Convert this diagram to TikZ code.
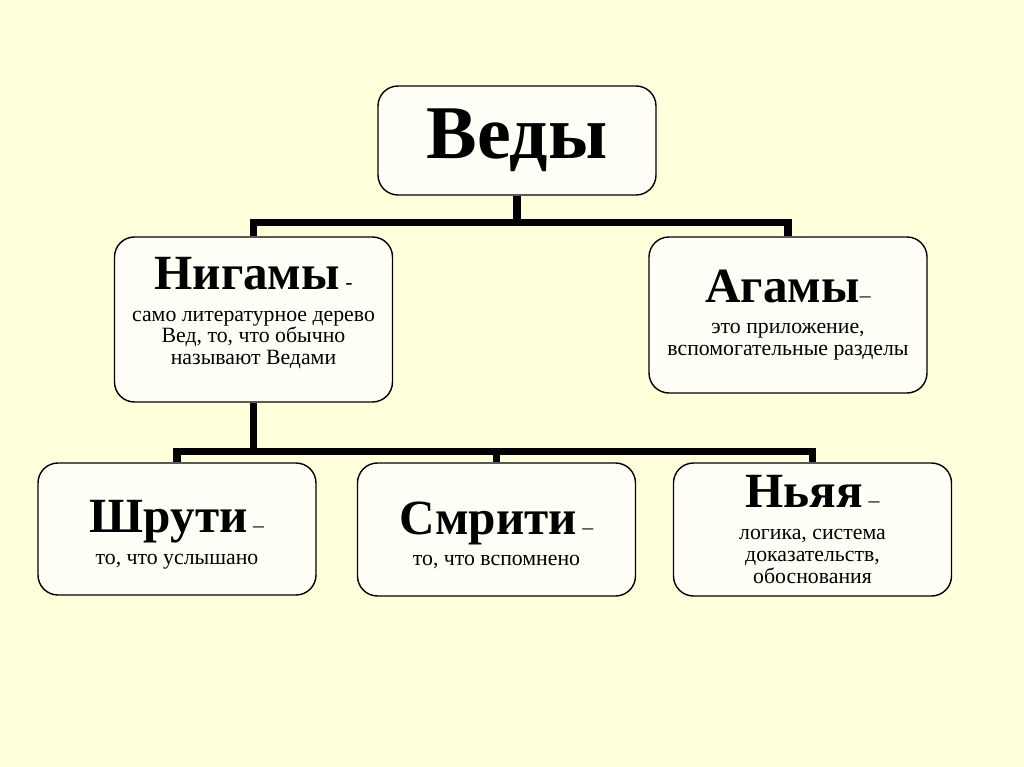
\documentclass[tikz,border=0pt]{standalone}
\usepackage{fontspec}
\setmainfont{Liberation Serif}
\usepackage{xcolor}
\definecolor{slidebg}{HTML}{FFFFDC}
\definecolor{boxfill}{HTML}{FFFFF7}

\newcommand{\headfont}{\fontsize{35}{37}\selectfont\bfseries}
\newcommand{\subfont}{\fontsize{15.5}{15.5}\selectfont}
\newcommand{\headstrut}{\rule{0pt}{0.9em}}
\newcommand{\tailstrut}{\rule[-12pt]{0pt}{0pt}}

\begin{document}
\begin{tikzpicture}[
  every node/.style={align=center},
  box/.style={rectangle, rounded corners=0.5cm, draw=black, line width=1pt,
    fill=boxfill, minimum width=6.95cm, font=\subfont, inner sep=2pt},
  conn/.style={line width=5pt, black}
]

%% Slide background
\fill[slidebg] (0,0) rectangle (25.6,-19.175);

%% Row 0: root
\node[box, minimum height=2.725cm, font=\fontsize{54}{58}\selectfont\bfseries]
  (vedy) at (12.925,-3.5125) {Веды};

%% Row 1
\node[box, minimum height=4.125cm] (nigamy) at (6.3375,-7.9875)
  {{\headfont Нигамы} -\\[7pt]
   само литературное дерево\\
   Вед, то, что обычно\\
   называют Ведами\tailstrut};

\node[box, minimum height=3.9cm] (agamy) at (19.7,-7.875)
  {{\headfont Агамы}–\\[7pt]
   это приложение,\\
   вспомогательные разделы};

%% Row 2
\node[box, minimum height=3.3cm] (shruti) at (4.425,-13.225)
  {{\headfont\headstrut Шрути} –\\[7pt]
   то, что услышано};

\node[box, minimum height=3.325cm] (smriti) at (12.4125,-13.2375)
  {{\headfont\headstrut Смрити} –\\[7pt]
   то, что вспомнено};

\node[box, minimum height=3.325cm] (nyaya) at (20.3125,-13.2375)
  {{\headfont Ньяя} –\\[7pt]
   логика, система\\
   доказательств,\\
   обоснования};

%% Connectors: root to row 1
\draw[conn] (vedy.south) -- ++(0,-0.675) -| (nigamy.north);
\draw[conn] (vedy.south) -- ++(0,-0.675) -| (agamy.north);

%% Connectors: Nigamy to row 2
\draw[conn] (nigamy.south) -- ++(0,-1.225) -| (shruti.north);
\draw[conn] (nigamy.south) -- ++(0,-1.225) -| (smriti.north);
\draw[conn] (nigamy.south) -- ++(0,-1.225) -| (nyaya.north);

\end{tikzpicture}
\end{document}
